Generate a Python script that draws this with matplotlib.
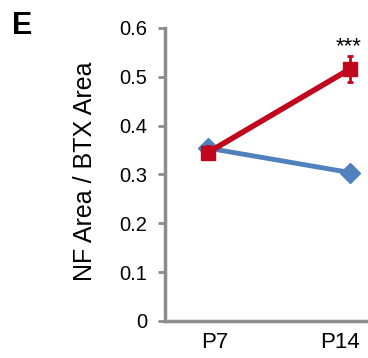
import matplotlib
matplotlib.use("Agg")
import matplotlib.pyplot as plt

plt.rcParams["font.family"] = ["Liberation Sans", "DejaVu Sans"]

# ── Data ─────────────────────────────────────────────────────────────────────
ages = ["P7", "P14"]
blue_mean = [0.354, 0.304]
blue_err = [0.010, 0.009]
red_mean = [0.345, 0.516]
red_err = [0.014, 0.027]
yticks = [0, 0.1, 0.2, 0.3, 0.4, 0.5, 0.6]
ytick_labels = ["0", "0.1", "0.2", "0.3", "0.4", "0.5", "0.6"]

W, H = 368, 358
fig = plt.figure(figsize=(W / 100, H / 100), dpi=100)
ax = fig.add_axes([165 / W, 1 - 321 / H, 1 - 165 / W, (321 - 28) / H])

x = list(range(len(ages)))
ax.errorbar(x, blue_mean, yerr=blue_err, color="#4F81BD", lw=3.5, marker="D",
            ms=10, capsize=2.5, elinewidth=2, capthick=2, zorder=2)
ax.errorbar(x, red_mean, yerr=red_err, color="#C0071E", lw=4, marker="s",
            ms=10, capsize=2.5, elinewidth=2, capthick=2, zorder=3)

ax.set_xlim(-0.303, 1.127)
ax.set_ylim(0, 0.6)
ax.set_yticks(yticks)
ax.set_yticklabels(ytick_labels, fontsize=14.5)
# category labels sit slightly inward of the markers, as in the original
ax.set_xticks([x[0] + 0.046, x[1] - 0.067])
ax.set_xticklabels(ages, fontsize=16)
ax.tick_params(axis="x", length=0, pad=8)
ax.tick_params(axis="y", length=5, width=2, color="#8C8C8C", pad=8)

for side in ["top", "right"]:
    ax.spines[side].set_visible(False)
for side in ["left", "bottom"]:
    ax.spines[side].set_color("#8C8C8C")
    ax.spines[side].set_linewidth(2.5)

fig.text(84.5 / W, 1 - 171.5 / H, "NF Area / BTX Area", rotation=90,
         ha="center", va="center", fontsize=18)
ax.text(0.99, 0.55, "***", ha="center", va="baseline", fontsize=16)
fig.text(12 / W, 1 - 34 / H, "E", fontsize=22, fontweight="bold",
         ha="left", va="baseline")

fig.savefig("out.png", dpi=100)
